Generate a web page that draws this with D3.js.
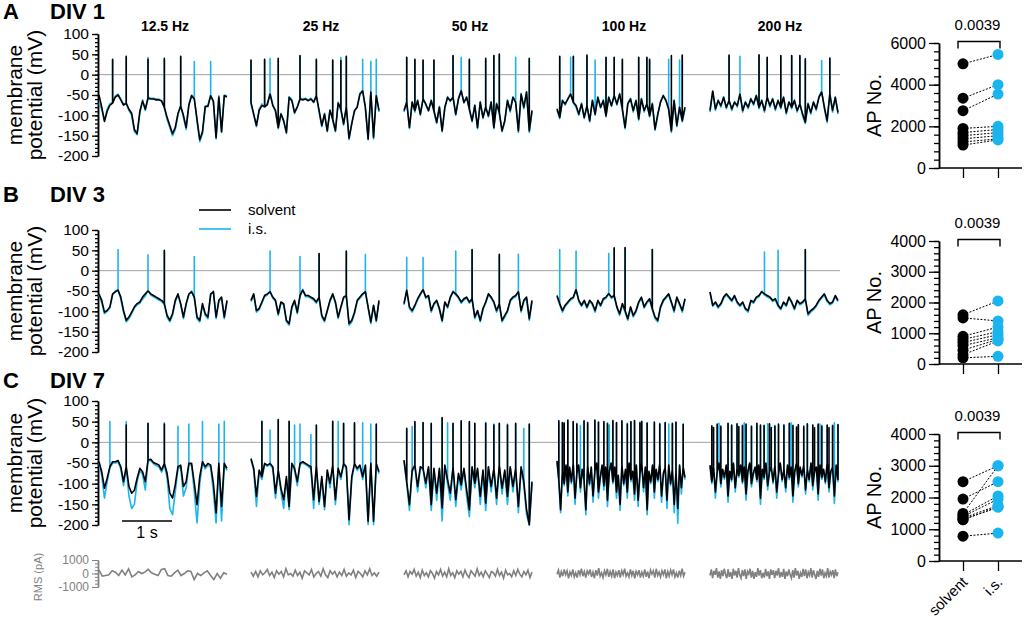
<!DOCTYPE html>
<html>
<head>
<meta charset="utf-8">
<script src="https://cdn.jsdelivr.net/npm/d3@7"></script>
<style>
  body { margin: 0; background: #fff; }
  text { font-family: "Liberation Sans", Arial, Helvetica, sans-serif; }
</style>
</head>
<body>
<svg id="fig" width="1024" height="622"></svg>
<script>
// ─── DATA ─────────────────────────────────────────────────────────────────────
// membrane potential traces (mV), sampled evenly over each 2.56 s sweep
// spikes are [time s, peak mV]
const freqs = ['12.5 Hz', '25 Hz', '50 Hz', '100 Hz', '200 Hz'];
const panelLetters = ['A', 'B', 'C'];
const divLabels = ['DIV 1', 'DIV 3', 'DIV 7'];
const conditions = ['solvent', 'i.s.'];

const div1Solvent = [
  [-50,-80,-115,-90,-75,-70,-55,-50,-62,-75,-70,-85,-95,-135,-145,-90,-65,-85,-58,-60,-60,-62,-62,-65,-80,-105,-125,-145,-130,-95,-78,-100,-130,-75,-52,-60,-110,-160,-140,-78,-78,-52,-65,-155,-55,-140,-52,-55],
  [-68,-97,-125,-88,-76,-79,-74,-48,-76,-88,-130,-97,-113,-142,-56,-64,-93,-80,-60,-62,-60,-64,-60,-68,-52,-88,-125,-97,-138,-88,-109,-138,-70,-84,-121,-80,-156,-121,-88,-80,-48,-40,-80,-158,-43,-154,-52,-88],
  [-88,-68,-130,-68,-88,-64,-97,-60,-72,-88,-64,-88,-117,-80,-138,-80,-56,-64,-56,-97,-60,-40,-68,-56,-84,-113,-76,-130,-68,-105,-80,-101,-68,-130,-72,-93,-138,-113,-64,-88,-56,-68,-138,-48,-80,-43,-138,-88],
  [-84,-105,-64,-72,-60,-48,-68,-76,-97,-72,-105,-76,-113,-64,-97,-56,-80,-64,-101,-56,-76,-52,-72,-48,-84,-130,-72,-60,-88,-64,-109,-60,-88,-72,-101,-72,-134,-97,-68,-52,-64,-84,-138,-64,-125,-80,-113,-80],
  [-88,-40,-84,-64,-76,-56,-80,-64,-84,-68,-76,-48,-88,-68,-80,-60,-72,-52,-80,-64,-88,-56,-76,-60,-84,-64,-80,-56,-93,-68,-80,-64,-88,-72,-97,-117,-72,-93,-68,-84,-56,-43,-80,-113,-48,-88,-56,-93],
];
const div1Is = [
  [-70,-85,-112,-85,-72,-68,-52,-48,-60,-72,-72,-88,-100,-140,-148,-95,-62,-88,-55,-58,-58,-60,-60,-64,-82,-110,-130,-150,-135,-100,-75,-105,-135,-72,-50,-58,-115,-165,-145,-80,-75,-50,-68,-158,-52,-142,-50,-52],
  [-72,-100,-128,-85,-72,-80,-70,-45,-72,-92,-133,-95,-116,-145,-54,-62,-96,-78,-58,-60,-58,-62,-58,-66,-50,-92,-128,-95,-140,-86,-112,-140,-68,-88,-124,-78,-160,-118,-92,-78,-46,-38,-84,-160,-40,-158,-50,-92],
  [-92,-65,-133,-66,-92,-62,-100,-58,-75,-90,-62,-92,-120,-78,-140,-82,-54,-66,-53,-100,-58,-38,-70,-54,-88,-116,-74,-133,-66,-108,-78,-104,-66,-133,-70,-96,-140,-116,-62,-92,-54,-66,-142,-46,-84,-42,-142,-92],
  [-88,-108,-62,-75,-58,-46,-70,-80,-100,-70,-108,-78,-116,-62,-100,-54,-82,-62,-104,-54,-78,-50,-75,-46,-88,-133,-70,-58,-92,-62,-112,-58,-92,-70,-104,-70,-137,-100,-66,-50,-62,-88,-142,-62,-128,-82,-116,-84],
  [-92,-42,-88,-62,-80,-54,-84,-62,-88,-66,-80,-46,-92,-66,-84,-58,-75,-50,-84,-62,-92,-54,-80,-58,-88,-62,-84,-54,-97,-66,-84,-62,-92,-70,-101,-120,-70,-97,-66,-88,-54,-40,-84,-118,-46,-92,-54,-97],
];
const div1SolventSpikes = [
  [[0.25,38],[0.565,45],[0.96,38],[1.31,40],[1.63,45]],
  [[0.027,36],[0.246,38],[0.559,40],[0.977,47],[1.33,38],[1.616,36],[1.81,35],[1.91,45]],
  [[0.033,43],[0.245,38],[0.384,36],[0.576,36],[0.979,47],[1.31,38],[1.64,40],[1.82,47],[1.905,51],[2.51,40]],
  [[0.033,45],[0.352,45],[0.578,48],[0.984,43],[1.117,43],[1.33,38],[1.616,43],[1.81,43],[1.86,38],[2.262,47],[2.527,48]],
  [[0.359,48],[0.991,49],[1.13,43],[1.396,47],[1.609,47],[1.775,47],[1.908,39],[2.42,41]],
];
const div1IsSpikes = [
  [[0.25,36],[0.565,42],[0.96,42],[1.31,38],[1.63,43],[1.895,32],[2.24,32]],
  [[0.027,34],[0.246,36],[0.379,40],[0.559,38],[0.977,44],[1.33,36],[1.616,35],[1.81,43],[1.91,42],[2.254,38],[2.41,33],[2.52,38]],
  [[0.033,40],[0.245,36],[0.384,34],[0.576,35],[0.979,44],[1.125,43],[1.31,36],[1.64,38],[1.82,45],[1.905,48],[2.23,43],[2.51,38]],
  [[0.033,43],[0.266,43],[0.352,43],[0.578,46],[0.785,36],[0.984,41],[1.117,41],[1.33,36],[1.616,41],[1.81,41],[1.86,36],[2.235,38],[2.427,36],[2.527,46]],
  [[0.359,46],[0.585,45],[0.991,47],[1.13,41],[1.396,45],[1.609,45],[1.775,45],[1.908,37],[2.26,35],[2.42,39]],
];

const div3Solvent = [
  [-57,-73,-102,-98,-89,-57,-52,-48,-65,-98,-122,-114,-102,-89,-81,-77,-65,-57,-50,-57,-61,-65,-69,-73,-81,-110,-122,-106,-73,-57,-81,-114,-81,-57,-52,-65,-114,-122,-81,-106,-114,-57,-52,-114,-73,-65,-114,-73],
  [-73,-57,-98,-93,-77,-61,-57,-52,-65,-73,-106,-77,-81,-122,-130,-89,-73,-102,-61,-48,-61,-61,-65,-69,-77,-65,-110,-122,-98,-73,-57,-77,-114,-89,-65,-61,-130,-122,-102,-73,-65,-57,-52,-89,-126,-85,-122,-73],
  [-81,-48,-89,-98,-85,-69,-57,-47,-65,-61,-98,-81,-73,-93,-122,-77,-89,-65,-52,-57,-65,-77,-69,-65,-77,-69,-114,-98,-122,-93,-77,-57,-65,-77,-98,-81,-122,-110,-98,-73,-65,-61,-52,-98,-73,-65,-118,-73],
  [-61,-81,-98,-85,-77,-69,-65,-47,-73,-85,-73,-89,-73,-81,-98,-73,-85,-69,-65,-57,-65,-61,-89,-106,-81,-98,-118,-89,-110,-98,-77,-65,-89,-77,-69,-93,-114,-122,-89,-73,-65,-57,-77,-98,-65,-81,-98,-69],
  [-52,-85,-77,-89,-81,-65,-57,-65,-73,-61,-77,-85,-77,-93,-98,-73,-77,-65,-61,-52,-57,-61,-65,-73,-69,-85,-93,-77,-85,-65,-77,-93,-73,-81,-77,-69,-106,-98,-93,-85,-73,-65,-57,-73,-81,-77,-61,-73],
];
const div3Is = [
  [-60,-78,-106,-100,-92,-60,-50,-46,-70,-102,-126,-118,-106,-92,-84,-80,-70,-62,-48,-60,-64,-68,-72,-76,-84,-114,-126,-110,-76,-60,-84,-118,-84,-60,-50,-68,-118,-126,-84,-110,-118,-60,-50,-118,-76,-68,-118,-76],
  [-76,-60,-102,-96,-80,-64,-60,-50,-68,-76,-110,-80,-84,-126,-134,-92,-76,-106,-64,-46,-64,-64,-68,-72,-80,-68,-114,-126,-100,-76,-60,-80,-118,-92,-68,-64,-134,-126,-106,-76,-68,-60,-50,-92,-130,-88,-126,-76],
  [-84,-50,-93,-102,-88,-72,-60,-45,-68,-64,-102,-84,-76,-96,-126,-80,-92,-68,-50,-60,-68,-80,-72,-68,-80,-72,-118,-102,-126,-96,-80,-60,-68,-80,-102,-84,-126,-114,-102,-76,-68,-64,-50,-102,-76,-68,-122,-76],
  [-64,-84,-102,-88,-80,-72,-68,-45,-76,-88,-76,-92,-76,-84,-102,-76,-88,-72,-68,-55,-68,-64,-92,-110,-84,-102,-122,-92,-114,-102,-80,-68,-92,-80,-72,-96,-118,-126,-92,-76,-68,-60,-80,-102,-68,-84,-102,-72],
  [-55,-88,-80,-92,-84,-68,-60,-68,-76,-64,-80,-88,-80,-96,-102,-76,-80,-68,-64,-50,-60,-64,-68,-76,-72,-88,-96,-80,-88,-68,-80,-96,-76,-84,-80,-72,-110,-102,-96,-88,-76,-68,-60,-76,-84,-80,-64,-76],
];
const div3SolventSpikes = [
  [[1.323,50]],
  [[1.349,42],[1.916,48]],
  [[1.341,52],[1.909,40]],
  [[1.127,56],[1.357,57],[1.916,52]],
  [[1.92,52]],
];
const div3IsSpikes = [
  [[0.366,52],[0.984,39],[1.323,48],[1.895,35]],
  [[0.391,48],[1.004,35],[1.349,40],[1.916,46],[2.276,40]],
  [[0.031,32],[0.383,32],[1.012,48],[1.341,50],[1.909,38],[2.276,40]],
  [[0.031,52],[0.383,48],[1.012,42],[1.127,54],[1.357,55],[1.916,50]],
  [[1.11,46],[1.349,50],[1.92,50]],
];

const div7Solvent = [
  [-47,-71,-111,-87,-59,-47,-47,-44,-59,-95,-59,-107,-123,-116,-87,-63,-71,-95,-43,-41,-49,-52,-55,-67,-51,-75,-123,-135,-103,-59,-55,-107,-95,-51,-51,-99,-151,-83,-47,-59,-51,-55,-99,-171,-51,-155,-51,-63],
  [-39,-63,-131,-67,-83,-51,-55,-51,-59,-123,-67,-111,-139,-83,-155,-51,-63,-95,-51,-47,-51,-55,-59,-139,-55,-143,-83,-155,-67,-99,-55,-139,-63,-83,-51,-59,-187,-83,-51,-63,-55,-83,-55,-191,-51,-191,-51,-71],
  [-43,-95,-151,-67,-55,-107,-59,-63,-99,-59,-151,-63,-123,-63,-159,-55,-91,-123,-59,-139,-75,-103,-63,-115,-163,-59,-99,-63,-131,-67,-147,-59,-107,-63,-135,-55,-111,-67,-131,-59,-107,-63,-155,-59,-95,-163,-199,-95],
  [-45,-90,-163,-70,-100,-55,-120,-60,-95,-50,-135,-75,-55,-110,-65,-90,-163,-55,-100,-60,-130,-70,-50,-120,-85,-55,-105,-60,-140,-70,-50,-95,-60,-120,-80,-150,-55,-100,-65,-120,-50,-90,-70,-125,-55,-140,-75,-50,-110,-60,-163,-70,-95,-55,-120,-65,-90,-50,-130,-75,-60,-140,-55,-100,-65,-150,-70,-160,-55,-110,-60,-85],
  [-55,-95,-60,-120,-70,-50,-100,-65,-85,-55,-130,-70,-90,-50,-110,-65,-80,-55,-95,-60,-125,-70,-50,-100,-75,-60,-90,-55,-135,-65,-85,-50,-105,-70,-60,-95,-55,-120,-75,-50,-90,-65,-110,-55,-85,-60,-130,-70,-50,-100,-60,-80,-55,-115,-65,-90,-50,-105,-70,-60,-125,-55,-85,-65,-95,-50,-110,-70,-60,-130,-55,-90],
];
const div7Is = [
  [-50,-80,-135,-95,-62,-50,-50,-48,-64,-105,-62,-130,-160,-150,-95,-68,-78,-115,-46,-44,-52,-56,-60,-72,-55,-85,-160,-175,-120,-64,-60,-130,-110,-55,-55,-120,-195,-100,-50,-64,-55,-60,-120,-195,-55,-190,-55,-68],
  [-42,-68,-155,-72,-90,-54,-58,-54,-64,-135,-72,-120,-160,-90,-163,-54,-68,-105,-54,-50,-54,-58,-64,-160,-60,-150,-90,-163,-72,-110,-58,-150,-68,-90,-54,-64,-199,-90,-54,-68,-58,-90,-58,-199,-54,-199,-54,-76],
  [-46,-100,-165,-72,-58,-120,-62,-66,-110,-62,-165,-66,-140,-66,-190,-58,-100,-140,-62,-155,-80,-115,-66,-130,-180,-62,-110,-66,-150,-72,-165,-62,-120,-66,-150,-58,-125,-72,-150,-62,-120,-66,-170,-62,-105,-175,-200,-100],
  [-48,-95,-170,-74,-105,-58,-130,-63,-100,-53,-150,-80,-58,-120,-68,-95,-175,-58,-105,-63,-145,-74,-53,-135,-90,-58,-115,-63,-155,-74,-53,-100,-63,-135,-85,-165,-58,-105,-68,-135,-53,-95,-74,-140,-58,-155,-80,-53,-120,-63,-175,-74,-100,-58,-135,-68,-95,-53,-145,-80,-63,-160,-58,-105,-68,-170,-74,-196,-58,-125,-63,-90],
  [-58,-100,-63,-135,-74,-53,-108,-68,-90,-58,-145,-74,-95,-53,-120,-68,-85,-58,-100,-63,-140,-74,-53,-108,-80,-63,-95,-58,-150,-68,-90,-53,-115,-74,-63,-100,-58,-135,-80,-53,-95,-68,-120,-58,-90,-63,-145,-74,-53,-108,-63,-85,-58,-125,-68,-95,-53,-115,-74,-63,-140,-58,-90,-68,-100,-53,-120,-74,-63,-148,-58,-95],
];
const div7SolventSpikes = [
  [[0.539,42],[0.971,46],[1.297,44]],
  [[0.245,51],[0.552,55],[0.782,51],[1.28,42],[1.625,51],[1.855,46],[2.085,47],[2.529,44]],
  [[0.031,34],[0.245,50],[0.383,48],[0.529,46],[0.766,60],[0.973,46],[1.15,52],[1.303,50],[1.433,46],[1.61,46],[1.778,42],[1.931,46],[2.085,42],[2.238,46],[2.529,44]],
  [[0.031,52],[0.107,48],[0.153,46],[0.23,54],[0.322,50],[0.399,44],[0.529,52],[0.628,47],[0.743,54],[0.835,49],[0.935,50],[0.996,45],[1.127,53],[1.188,48],[1.295,52],[1.395,44],[1.472,50],[1.564,53],[1.648,47],[1.701,51],[1.817,46],[1.931,49],[2.069,44],[2.177,48],[2.315,45],[2.391,49],[2.529,43]],
  [[0.031,40],[0.085,36],[0.131,44],[0.231,38],[0.362,46],[0.44,42],[0.54,45],[0.59,38],[0.632,40],[0.725,44],[0.825,38],[0.925,46],[1.018,42],[1.095,40],[1.187,45],[1.23,36],[1.288,39],[1.388,44],[1.48,41],[1.573,46],[1.673,40],[1.72,37],[1.773,43],[1.866,38],[1.941,45],[2.059,41],[2.1,35],[2.159,44],[2.251,39],[2.329,42],[2.39,36],[2.444,40],[2.545,43]],
];
const div7IsSpikes = [
  [[0.239,50],[0.539,50],[0.971,44],[1.297,47],[1.596,39],[1.802,44],[2.075,50],[2.374,44],[2.5,51]],
  [[0.245,49],[0.376,30],[0.552,53],[0.782,49],[0.874,42],[0.989,44],[1.219,19],[1.28,40],[1.625,49],[1.763,50],[1.855,44],[2.085,45],[2.223,47],[2.414,44],[2.529,42]],
  [[0.031,32],[0.153,38],[0.245,48],[0.383,46],[0.529,44],[0.766,58],[0.858,47],[0.973,44],[1.15,50],[1.303,48],[1.433,44],[1.61,48],[1.778,44],[1.931,44],[2.085,44],[2.238,44],[2.407,34],[2.529,42]],
  [[0.031,50],[0.107,46],[0.153,48],[0.23,52],[0.322,48],[0.399,46],[0.46,40],[0.529,50],[0.628,49],[0.743,52],[0.835,47],[0.935,48],[0.996,47],[1.06,42],[1.127,51],[1.188,46],[1.295,50],[1.395,46],[1.472,48],[1.564,51],[1.648,49],[1.701,49],[1.817,48],[1.931,47],[2.069,46],[2.177,46],[2.25,44],[2.315,47],[2.391,47],[2.529,45]],
  [[0.031,38],[0.131,42],[0.18,46],[0.231,40],[0.362,44],[0.44,40],[0.54,43],[0.632,42],[0.68,47],[0.725,42],[0.825,40],[0.925,44],[1.018,40],[1.095,42],[1.14,45],[1.187,43],[1.288,41],[1.388,42],[1.48,43],[1.573,44],[1.62,47],[1.673,42],[1.773,41],[1.866,40],[1.941,43],[2.059,43],[2.159,42],[2.2,44],[2.251,41],[2.329,40],[2.444,42],[2.5,47],[2.545,41]],
];

// RMS of injected current (pA), DIV 7 only
const rmsTraces = [
  [250,-200,-150,-100,200,100,-150,250,-100,350,-250,-100,150,0,100,300,50,-50,-150,300,350,-150,-200,50,250,-150,0,200,150,-450,0,-150,50,200,-150,-450,0,-350,50,-50],
  [100,-200,150,-250,200,-100,50,300,-150,100,-300,200,-50,150,-250,350,-100,0,-200,250,-150,100,-350,200,50,-100,300,-250,0,150,-200,350,-100,-300,200,-50,150,-250,100,-150,300,-200,50,-100,250,-300,150,0,-250,200,-100,350,-150,50,-200,100],
  [-100,200,-250,150,-50,300,-200,100,-300,250,-150,50,-250,200,0,-350,150,-100,300,-200,100,-250,350,-150,50,-300,200,-50,150,-250,250,-100,-300,200,0,-200,350,-150,100,-250,200,-50,-300,150,50,-200,300,-150,100,-350,250,-100,0,-250,200,-150,300,-50,-250,150,-100,250,-300,100],
  [-50,250,-300,150,-200,300,-100,200,-350,100,-150,300,-250,50,-300,250,-100,350,-200,150,-300,200,-50,300,-250,100,-350,250,-150,400,-200,50,-300,200,-100,350,-250,150,-200,300,-350,100,-150,250,-300,200,-100,350,-200,50,-250,300,-150,200,-350,150,-100,250,-300,100,-200,300,-250,150,-350,250,-50,200,-300,350,-150,100,-250,200,-100,300,-350,150,-200,250,-100,300,-250,50,-300,200,-150,350,-200,100],
  [-150,300,-350,200,-100,400,-300,150,-400,250,-200,350,-50,-350,300,-250,100,-400,350,-150,200,-300,400,-100,-350,250,-200,300,-400,150,-50,350,-300,200,-400,100,-250,400,-150,250,-350,50,-300,350,-200,150,-400,300,-100,250,-350,200,-150,400,-300,100,-250,350,-400,150,-200,300,-100,-350,250,-300,400,-150,200,-400,50,-250,350,-200,300,-350,100,-150,400,-300,250,-100,-400,200,-250,350,-150,300,-350,50,-200,400,-300,150,-100,250,-350,300,-200,100],
];

// AP counts per cell (paired), rows = DIV 1, DIV 3, DIV 7
const apSolvent = [
  [5000,3350,2750,1900,1700,1550,1400,1250,1100],
  [1600,1500,900,800,700,600,450,300,200],
  [2500,1950,1500,1450,1400,1350,1300,1300,780],
];
const apIs = [
  [5450,4000,3550,2000,1850,1700,1550,1400,1350],
  [2050,1400,1200,1050,950,850,800,750,250],
  [3000,2500,3000,2050,1950,1750,1700,1700,880],
];
const pValues = ['0.0039', '0.0039', '0.0039'];

const voltTicks = [100, 50, 0, -50, -100, -150, -200];
const rmsTicks = [1000, 0, -1000];
const apMax = [6000, 4000, 4000];
const apTickStep = [2000, 1000, 1000];
const apMinorStep = [400, 200, 200];
// ──────────────────────────────────────────────────────────────────────────────

const solventColor = '#000000';
const isColor = '#1ab4ee';
const sweep = 2.56;            // seconds per sweep
const axisX = 98;
const panelX = [99, 251, 404, 557, 710];
const panelW = 128;
const rowY = [[34, 156], [230, 352], [401, 525]];   // pixel of +100 and -200 mV
const apY = [[43, 168], [241, 364], [434, 561]];    // pixel of max and 0

const allSolvent = [div1Solvent, div3Solvent, div7Solvent];
const allIs = [div1Is, div3Is, div7Is];
const allSolventSpikes = [div1SolventSpikes, div3SolventSpikes, div7SolventSpikes];
const allIsSpikes = [div1IsSpikes, div3IsSpikes, div7IsSpikes];

const svg = d3.select('#fig');

function styleAxis(g) {
  g.selectAll('path.domain').attr('stroke', '#000').attr('stroke-width', 1.5);
  g.selectAll('.tick line').attr('stroke', '#000').attr('stroke-width', 1.3);
  g.selectAll('text').attr('font-family', '"Liberation Sans", Arial, sans-serif');
}

// voltage trace: samples joined by a line, spikes as vertical strokes at the nearest sample
function drawTrace(g, x, y, vals, spikes, color) {
  const dt = sweep / (vals.length - 1);
  const spikeAt = new Map();
  spikes.forEach(([t, pk]) => {
    const i = Math.round(t / dt);
    if (!spikeAt.has(i)) spikeAt.set(i, []);
    spikeAt.get(i).push(pk);
  });
  const p = d3.path();
  vals.forEach((v, i) => {
    const xi = x(i * dt), yi = y(v);
    if (i === 0) p.moveTo(xi, yi); else p.lineTo(xi, yi);
    (spikeAt.get(i) || []).forEach((pk) => { p.lineTo(xi, y(pk)); p.lineTo(xi, yi); });
  });
  g.append('path')
    .attr('d', p.toString())
    .attr('fill', 'none')
    .attr('stroke', color)
    .attr('stroke-width', 1.6)
    .attr('stroke-linejoin', 'round');
}

// ─── TRACE ROWS ───────────────────────────────────────────────────────────────
rowY.forEach(([top, bottom], r) => {
  const y = d3.scaleLinear().domain([100, -200]).range([top, bottom]);
  const g = svg.append('g');

  // panel letter + DIV
  const headY = [19, 202, 388][r];
  g.append('text').attr('x', 3).attr('y', headY).attr('font-size', 22).attr('font-weight', 'bold').text(panelLetters[r]);
  g.append('text').attr('x', 50).attr('y', headY).attr('font-size', 22).attr('font-weight', 'bold').text(divLabels[r]);

  // zero line
  g.append('line')
    .attr('x1', axisX).attr('x2', 840)
    .attr('y1', y(0)).attr('y2', y(0))
    .attr('stroke', '#a0a0a0').attr('stroke-width', 1);

  // y axis
  g.append('g')
    .attr('transform', `translate(${axisX},0)`)
    .call(d3.axisLeft(y).tickValues(d3.range(-200, 101, 10)).tickSize(3).tickFormat('').tickSizeOuter(0))
    .call(styleAxis);
  g.append('g')
    .attr('transform', `translate(${axisX},0)`)
    .call(d3.axisLeft(y).tickValues(voltTicks).tickSize(6).tickPadding(3).tickFormat((d) => String(d)).tickSizeOuter(0))
    .call(styleAxis)
    .call((a) => a.selectAll('text').attr('font-size', 15.5).attr('fill', '#000'));

  const cy = (top + bottom) / 2;
  g.append('text').attr('transform', `translate(22,${cy}) rotate(-90)`).attr('text-anchor', 'middle').attr('font-size', 21).text('membrane');
  g.append('text').attr('transform', `translate(42,${cy}) rotate(-90)`).attr('text-anchor', 'middle').attr('font-size', 21).text('potential (mV)');

  panelX.forEach((x0, c) => {
    const x = d3.scaleLinear().domain([0, sweep]).range([x0, x0 + panelW]);
    drawTrace(g, x, y, allIs[r][c], allIsSpikes[r][c], isColor);
    drawTrace(g, x, y, allSolvent[r][c], allSolventSpikes[r][c], solventColor);

    if (r === 0) {
      g.append('text')
        .attr('x', [165, 321, 470, 624, 780][c]).attr('y', 31)
        .attr('text-anchor', 'middle').attr('font-size', 14).attr('font-weight', 'bold')
        .text(freqs[c]);
    }
    if (r === 2) {
      // injected current RMS
      const yr = d3.scaleLinear().domain([1000, -1000]).range([560, 587]);
      g.append('path')
        .datum(rmsTraces[c])
        .attr('fill', 'none').attr('stroke', '#808080').attr('stroke-width', 1.6)
        .attr('d', d3.line().x((d, i) => x(i * sweep / (rmsTraces[c].length - 1))).y((d) => yr(d)));
      if (c === 0) {
        // scale bar 1 s
        g.append('line').attr('x1', x(0.46)).attr('x2', x(1.46)).attr('y1', 521).attr('y2', 521)
          .attr('stroke', '#000').attr('stroke-width', 1.5);
        g.append('text').attr('x', x(0.96)).attr('y', 538).attr('text-anchor', 'middle').attr('font-size', 16).text('1 s');

        const ra = g.append('g').attr('transform', `translate(${axisX},0)`);
        ra.call(d3.axisLeft(yr).tickValues(d3.range(-1000, 1001, 250)).tickSize(3).tickFormat('').tickSizeOuter(0));
        ra.append('g').call(d3.axisLeft(yr).tickValues(rmsTicks).tickSize(6).tickPadding(3).tickFormat((d) => String(d)).tickSizeOuter(0));
        ra.selectAll('path.domain').attr('stroke', '#808080').attr('stroke-width', 1.4);
        ra.selectAll('.tick line').attr('stroke', '#808080');
        ra.selectAll('text').attr('fill', '#808080').attr('font-size', 12).attr('font-family', '"Liberation Sans", Arial, sans-serif');
        g.append('text').attr('transform', 'translate(42,577) rotate(-90)').attr('text-anchor', 'middle')
          .attr('font-size', 11).attr('fill', '#808080').text('RMS (pA)');
      }
    }
  });
});

// legend
const legend = svg.append('g');
[[solventColor, 210, 'solvent'], [isColor, 229, 'i.s.']].forEach(([col, ly, lab]) => {
  legend.append('line').attr('x1', 199).attr('x2', 231).attr('y1', ly).attr('y2', ly).attr('stroke', col).attr('stroke-width', 1.6);
  legend.append('text').attr('x', 248).attr('y', ly + 5).attr('font-size', 15).text(lab);
});

// ─── AP COUNT PANELS ──────────────────────────────────────────────────────────
const xCat = d3.scalePoint().domain(conditions).range([963, 998]);

apY.forEach(([top, bottom], r) => {
  const y = d3.scaleLinear().domain([0, apMax[r]]).range([bottom, top]);
  const g = svg.append('g');

  g.append('g').attr('transform', 'translate(939,0)')
    .call(d3.axisLeft(y).tickValues(d3.range(0, apMax[r] + 1, apMinorStep[r])).tickSize(5).tickFormat('').tickSizeOuter(0))
    .call(styleAxis);
  g.append('g').attr('transform', 'translate(939,0)')
    .call(d3.axisLeft(y).tickValues(d3.range(0, apMax[r] + 1, apTickStep[r])).tickSize(10).tickPadding(3).tickFormat((d) => String(d)).tickSizeOuter(0))
    .call(styleAxis)
    .call((a) => a.selectAll('text').attr('font-size', 16).attr('fill', '#000'));

  // x axis
  const xa = g.append('g').attr('transform', `translate(0,${bottom})`)
    .call(d3.axisBottom(xCat).tickSize(10).tickSizeOuter(0).tickFormat(r === 2 ? null : ''));
  xa.select('path.domain').attr('d', 'M939,0H1022');
  xa.call(styleAxis);
  if (r === 2) {
    xa.selectAll('text')
      .attr('font-size', 15).attr('fill', '#000')
      .attr('text-anchor', 'end')
      .attr('x', 0).attr('y', 0).attr('dy', 0)
      .attr('transform', 'translate(5,22) rotate(-45)');
  }

  g.append('text')
    .attr('transform', `translate(881,${(top + bottom) / 2}) rotate(-90)`)
    .attr('text-anchor', 'middle').attr('font-size', 20).text('AP No.');

  // paired lines
  g.selectAll('line.pair')
    .data(apSolvent[r].map((v, i) => [v, apIs[r][i]]))
    .join('line')
    .attr('class', 'pair')
    .attr('x1', xCat('solvent')).attr('x2', xCat('i.s.'))
    .attr('y1', (d) => y(d[0])).attr('y2', (d) => y(d[1]))
    .attr('stroke', '#000').attr('stroke-width', 1).attr('stroke-dasharray', '2,1.5');

  g.selectAll('circle.sol').data(apSolvent[r]).join('circle')
    .attr('cx', xCat('solvent')).attr('cy', (d) => y(d)).attr('r', 5.5).attr('fill', solventColor);
  g.selectAll('circle.is').data(apIs[r]).join('circle')
    .attr('cx', xCat('i.s.')).attr('cy', (d) => y(d)).attr('r', 5.5).attr('fill', isColor);

  // significance bracket
  const by = top - 1.5;
  g.append('path')
    .attr('d', `M${xCat('solvent') - 5},${by + 7}V${by}H${xCat('i.s.') + 2}V${by + 7}`)
    .attr('fill', 'none').attr('stroke', '#000').attr('stroke-width', 1.4);
  g.append('text')
    .attr('x', (xCat('solvent') + xCat('i.s.')) / 2 - 3).attr('y', by - 12)
    .attr('text-anchor', 'middle').attr('font-size', 15).text(pValues[r]);
});
</script>
</body>
</html>
